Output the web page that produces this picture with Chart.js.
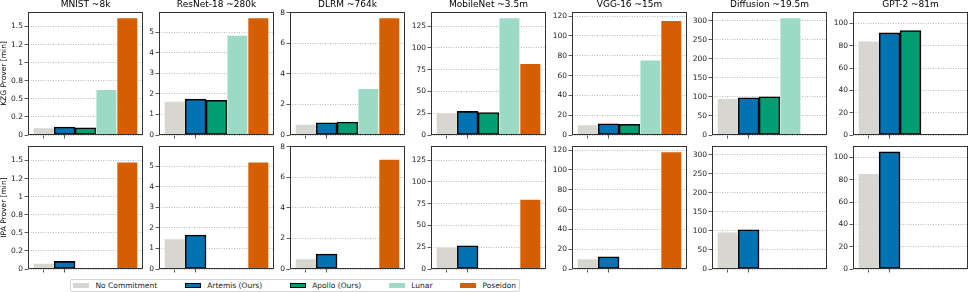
<!DOCTYPE html>
<html>
<head>
<meta charset="utf-8">
<script src="https://cdn.jsdelivr.net/npm/chart.js@4/dist/chart.umd.min.js"></script>
<style>
  body { margin: 0; background: #fff; width: 969px; height: 292px; position: relative; overflow: hidden; font-family: "DejaVu Sans", sans-serif; }
  canvas { position: absolute; }
  #legend { position: absolute; left: 69.5px; top: 278.5px; width: 450px; height: 13px; border: 1px solid #d4d4d4; border-radius: 2px;
            box-sizing: border-box; display: flex; align-items: center; padding-left: 2.5px; font-size: 7.5px; color: #222; }
  .item { display: flex; align-items: center; margin-right: 27.5px; white-space: nowrap; }
  .sw { width: 16px; height: 5px; margin-right: 6.5px; box-sizing: border-box; }
</style>
</head>
<body>
<div id="legend"></div>
<script>
// models (columns) and methods (bars)
const models = ['MNIST ~8k', 'ResNet-18 ~280k', 'DLRM ~764k', 'MobileNet ~3.5m', 'VGG-16 ~15m', 'Diffusion ~19.5m', 'GPT-2 ~81m'];
const methods = ['No Commitment', 'Artemis (Ours)', 'Apollo (Ours)', 'Lunar', 'Poseidon'];
const rowLabels = ['KZG Prover [min]', 'IPA Prover [min]'];

// KZG prover time [min]
const kzgNoCommit = [0.10, 1.64, 0.70, 25.5, 10.4, 96, 84.4];
const kzgArtemis  = [0.11, 1.74, 0.80, 27.1, 11.4, 98, 91.6];
const kzgApollo   = [0.10, 1.69, 0.85, 25.8, 10.8, 100.6, 93.7];
const kzgLunar    = [0.63, 4.84, 3.04, 134.5, 75.6, 308, null];
const kzgPoseidon = [1.62, 5.69, 7.68, 82, 115.6, null, null];

// IPA prover time [min]
const ipaNoCommit = [0.08, 1.47, 0.67, 25.2, 10.4, 97, 85.7];
const ipaArtemis  = [0.105, 1.65, 0.98, 26.7, 12.4, 103, 105.1];
const ipaApollo   = [null, null, null, null, null, null, null];
const ipaLunar    = [null, null, null, null, null, null, null];
const ipaPoseidon = [1.48, 5.19, 7.2, 80, 118.3, null, null];

// y ticks per model
const yTicks = [
  [0, 0.25, 0.5, 0.75, 1, 1.25, 1.5],
  [0, 1, 2, 3, 4, 5],
  [0, 2, 4, 6, 8],
  [0, 25, 50, 75, 100, 125],
  [0, 20, 40, 60, 80, 100, 120],
  [0, 50, 100, 150, 200, 250, 300],
  [0, 20, 40, 60, 80, 100]
];
const yTickLabels = [
  ['0', '0.2', '0.5', '0.8', '1', '1.2', '1.5'],
  ['0', '1', '2', '3', '4', '5'],
  ['0', '2', '4', '6', '8'],
  ['0', '25', '50', '75', '100', '125'],
  ['0', '20', '40', '60', '80', '100', '120'],
  ['0', '50', '100', '150', '200', '250', '300'],
  ['0', '20', '40', '60', '80', '100']
];

const rows = [
  [kzgNoCommit, kzgArtemis, kzgApollo, kzgLunar, kzgPoseidon],
  [ipaNoCommit, ipaArtemis, ipaApollo, ipaLunar, ipaPoseidon]
];

// styles
const fills = ['#d7d6d1', '#0173b2', '#029e73', '#9ddac6', '#d55e00'];
const edges = ['rgba(255,255,255,0.5)', '#000', '#000', 'rgba(255,255,255,0.5)', 'rgba(255,255,255,0.35)'];
const edgeW = [0.8, 1.6, 1.6, 0.8, 0.8];
const FONT = 'DejaVu Sans';

// layout
const panelLeft = [28, 159, 290, 431, 572, 712, 853];
const PW = 115, PH = 123, AXW = 28, XH = 8, PADR = 2;
const rowTop = [12, 146];

const framePlugin = {
  id: 'frame',
  afterDatasetsDraw(chart) {
    const a = chart.chartArea, ctx = chart.ctx;
    ctx.save();
    ctx.strokeStyle = '#333';
    ctx.lineWidth = 1;
    ctx.strokeRect(Math.round(a.left) + 0.5, Math.round(a.top) + 0.5,
                   Math.round(a.right - a.left) - 1, Math.round(a.bottom - a.top) - 1);
    ctx.restore();
  }
};

for (let c = 0; c < models.length; c++) {
  let top = 0;
  for (const r of [0, 1]) top = Math.max(top, ...rows[r].map(s => s[c] || 0));
  const yMax = top * 1.05;

  for (let r = 0; r < 2; r++) {
    const padTop = r === 0 ? 0 : 6;
    const cv = document.createElement('canvas');
    cv.width = AXW + PW + PADR;
    cv.height = (r === 0 ? rowTop[0] : padTop) + PH + XH;
    cv.style.left = (panelLeft[c] - AXW) + 'px';
    cv.style.top = (r === 0 ? 0 : rowTop[1] - padTop) + 'px';
    document.body.appendChild(cv);

    new Chart(cv, {
      type: 'bar',
      data: {
        datasets: [{
          data: rows[r].map((s, m) => ({ x: m, y: s[c] })),
          backgroundColor: fills,
          borderColor: edges,
          borderWidth: edgeW,
          borderSkipped: false,
          barPercentage: 1,
          categoryPercentage: 1
        }]
      },
      options: {
        responsive: false,
        animation: false,
        devicePixelRatio: 1,
        layout: { padding: { top: padTop, right: PADR, bottom: 0, left: 0 } },
        plugins: {
          legend: { display: false },
          tooltip: { enabled: false },
          title: {
            display: r === 0, text: models[c], fullSize: false, color: '#000',
            font: { family: FONT, size: 9, weight: 'normal', lineHeight: 1 },
            padding: { top: 0, bottom: 3 }
          }
        },
        scales: {
          x: {
            type: 'linear', min: -0.75, max: 4.75, offset: false,
            border: { display: false },
            grid: { drawOnChartArea: false, drawTicks: true, tickLength: 3.5, tickColor: '#333', tickWidth: 0.8, offset: false },
            ticks: { display: false },
            afterBuildTicks: s => { s.ticks = [{ value: 0 }, { value: 1 }]; },
            afterFit: s => { s.height = XH; }
          },
          y: {
            min: 0, max: yMax,
            border: { display: false, dash: [1, 1.5] },
            grid: { color: '#a8a8a8', lineWidth: 0.8, tickLength: 3.5, tickColor: '#333', tickWidth: 0.8 },
            ticks: { font: { family: FONT, size: 7.5 }, color: '#222', padding: 1.5,
                     callback: (v, i) => yTickLabels[c][i] },
            afterBuildTicks: s => { s.ticks = yTicks[c].map(v => ({ value: v })); },
            title: { display: c === 0, text: rowLabels[r], color: '#000',
                     font: { family: FONT, size: 7.5 }, padding: { top: 0, bottom: 0 } },
            afterFit: s => { s.width = AXW; }
          }
        }
      },
      plugins: [framePlugin]
    });
  }
}

// legend
const lg = document.getElementById('legend');
methods.forEach((name, m) => {
  const it = document.createElement('div');
  it.className = 'item';
  const sw = document.createElement('span');
  sw.className = 'sw';
  sw.style.background = fills[m];
  if (edges[m] === '#000') sw.style.border = '1.5px solid #000';
  const tx = document.createElement('span');
  tx.textContent = name;
  it.appendChild(sw);
  it.appendChild(tx);
  lg.appendChild(it);
});
</script>
</body>
</html>
